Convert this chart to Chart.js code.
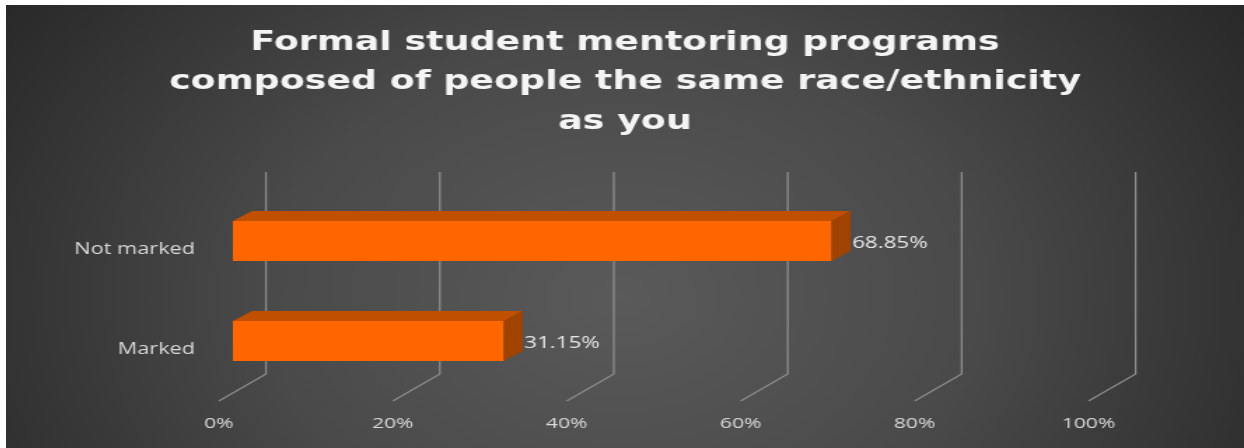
<!DOCTYPE html>
<html>
<head>
<meta charset="utf-8">
<script src="https://cdn.jsdelivr.net/npm/chart.js@4.4.1/dist/chart.umd.min.js"></script>
<style>
  html, body { margin: 0; padding: 0; background: #ffffff; }
  #chart { position: absolute; left: 6px; top: 5px; }
</style>
</head>
<body>
<!-- the original picture is stretched sideways, so the canvas is too -->
<canvas id="chart" width="884" height="443" style="width:1238px;height:443px"></canvas>
<script>
const categories = ["Not marked", "Marked"];
const percentages = [68.85, 31.15];
const tickValues = [0, 20, 40, 60, 80, 100];
const titleLines = [
    "Formal student mentoring programs",
    "composed of people the same race/ethnicity",
    "as you"
];

// 3D look: depth offsets in canvas px
const BAR_DX = 13.6, BAR_DY = -10;
const WALL_DX = 23.6, WALL_TOP = 167, WALL_BOTTOM = 369;
const FLOOR_DX = -10, FLOOR_Y = 396;

const backgroundPlugin = {
    id: "background",
    beforeDraw(chart) {
        const { ctx, width, height } = chart;
        const g = ctx.createRadialGradient(440, 292, 0, 440, 292, 560);
        g.addColorStop(0, "#5a5a5a");
        g.addColorStop(0.45, "#4a4a4a");
        g.addColorStop(1, "#252525");
        ctx.save();
        ctx.fillStyle = g;
        ctx.fillRect(0, 0, width, height);
        ctx.restore();
    }
};

// Paredes / linhas de grade em perspectiva
const wallPlugin = {
    id: "wall",
    beforeDatasetsDraw(chart) {
        const { ctx } = chart;
        const xScale = chart.scales.x;
        ctx.save();
        ctx.strokeStyle = "#8c8c8c";
        ctx.lineWidth = 1.3;
        tickValues.forEach((v) => {
            const px = xScale.getPixelForValue(v);
            ctx.beginPath();
            ctx.moveTo(px + WALL_DX, WALL_TOP);
            ctx.lineTo(px + WALL_DX, WALL_BOTTOM);
            ctx.lineTo(px + FLOOR_DX, FLOOR_Y);
            ctx.stroke();
        });
        ctx.restore();
    }
};

// Faces superior e lateral das barras + rótulos de dados
const barFacesPlugin = {
    id: "barFaces",
    afterDatasetsDraw(chart) {
        const { ctx } = chart;
        const meta = chart.getDatasetMeta(0);
        ctx.save();
        meta.data.forEach((bar, i) => {
            const { x, y, base, height } = bar.getProps(["x", "y", "base", "height"], true);
            const top = y - height / 2;
            const bottom = y + height / 2;
            // top face
            ctx.fillStyle = "#c04f00";
            ctx.beginPath();
            ctx.moveTo(base, top);
            ctx.lineTo(base + BAR_DX, top + BAR_DY);
            ctx.lineTo(x + BAR_DX, top + BAR_DY);
            ctx.lineTo(x, top);
            ctx.closePath();
            ctx.fill();
            // side face
            ctx.fillStyle = "#a04200";
            ctx.beginPath();
            ctx.moveTo(x, top);
            ctx.lineTo(x + BAR_DX, top + BAR_DY);
            ctx.lineTo(x + BAR_DX, bottom + BAR_DY);
            ctx.lineTo(x, bottom);
            ctx.closePath();
            ctx.fill();
            // data label
            ctx.fillStyle = "#e8e8e8";
            ctx.font = "16px 'Open Sans'";
            ctx.textAlign = "left";
            ctx.textBaseline = "middle";
            ctx.fillText(percentages[i].toFixed(2) + "%", x + BAR_DX + 1, y + 2);
        });
        ctx.restore();
    }
};

new Chart(document.getElementById("chart"), {
    type: "bar",
    data: {
        labels: categories,
        datasets: [{
            data: percentages,
            backgroundColor: "#ff6600",
            borderWidth: 0,
            barPercentage: 0.4,
            categoryPercentage: 1,
        }],
    },
    options: {
        indexAxis: "y",
        responsive: false,
        animation: false,
        devicePixelRatio: 1,
        layout: { padding: 0 },
        scales: {
            x: {
                min: 0,
                max: 100,
                afterFit: (s) => { s.height = 57; },
                grid: { display: false, drawTicks: false },
                border: { display: false },
                ticks: {
                    stepSize: 20,
                    labelOffset: FLOOR_DX,
                    padding: 24,
                    color: "#d9d9d9",
                    font: { family: "'Open Sans'", size: 15 },
                    callback: (v) => v + "%",
                },
            },
            y: {
                afterFit: (s) => { s.width = 162; },
                grid: { display: false, drawTicks: false },
                border: { display: false },
                ticks: {
                    labelOffset: 9,
                    padding: 27,
                    color: "#d9d9d9",
                    font: { family: "'Open Sans'", size: 15.5 },
                },
            },
            // empty right axis, only keeps room right of the plot
            yRight: {
                type: "linear",
                position: "right",
                afterFit: (s) => { s.width = 101; },
                grid: { display: false, drawTicks: false },
                border: { display: false },
                ticks: { display: false },
            },
        },
        plugins: {
            legend: { display: false },
            tooltip: { enabled: false },
            title: {
                display: true,
                text: titleLines,
                color: "#f4f4f4",
                font: { family: "'DejaVu Sans'", size: 26, weight: "bold", lineHeight: 1.52 },
                padding: { top: 18, bottom: 49.5 },
            },
        },
    },
    plugins: [backgroundPlugin, wallPlugin, barFacesPlugin],
});
</script>
</body>
</html>
